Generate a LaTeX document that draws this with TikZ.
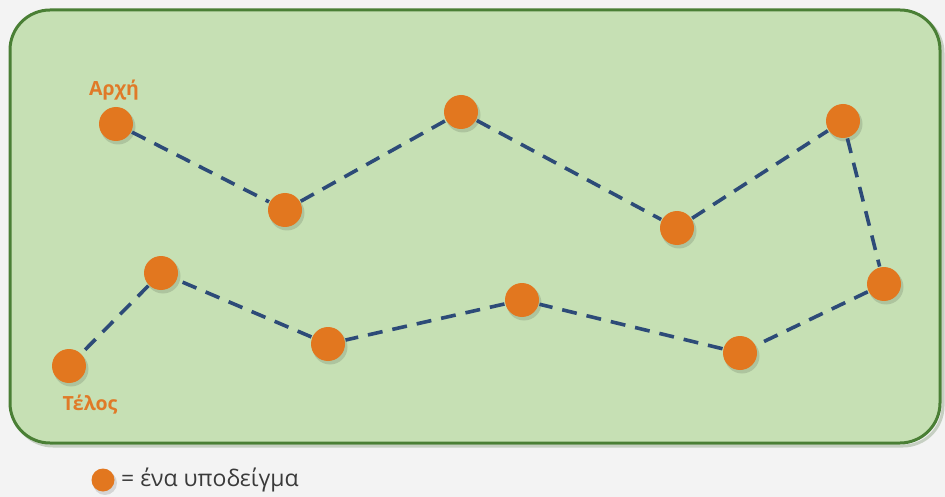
\documentclass[tikz,border=0pt]{standalone}
\usepackage{fontspec}
\setmainfont{Open Sans}
\definecolor{bggray}{HTML}{F3F3F3}
\definecolor{boxfill}{HTML}{C6E0B4}
\definecolor{boxline}{HTML}{4A7F35}
\definecolor{dotor}{HTML}{E2771F}
\definecolor{lblor}{HTML}{E07A28}
\definecolor{dashblue}{HTML}{2D4B78}
\definecolor{txtgray}{HTML}{3A3A3A}
\begin{document}
\begin{tikzpicture}[x=1pt,y=-1pt,
  dot/.style={circle,fill=dotor,minimum size=34pt,inner sep=0pt},
  link/.style={draw=dashblue,line width=3.6pt,dash pattern=on 15pt off 10pt,shorten <=18pt,shorten >=18pt},
  lbl/.style={text=lblor,font=\bfseries\fontsize{19.5}{22}\selectfont,inner sep=0pt}]
\fill[bggray] (0,0) rectangle (945,497);
\useasboundingbox (0,0) rectangle (945,497);
\draw[boxline!60!gray,opacity=0.3,line width=3pt,rounded corners=40pt] (13,13) rectangle (943,446);
\draw[fill=boxfill,draw=boxline,line width=3pt,rounded corners=40pt] (10,10) rectangle (940,443);
\foreach \n/\x/\y in {a/116/124,b/285/210,c/461/112,d/677/228,e/843/121,f/884/284,g/740/353,h/522/300,i/328/344,j/161/273,k/69/366}{
  \fill[black,opacity=0.12] (\x+2,\y+3) circle (17.5);
  \node[dot] (\n) at (\x,\y) {};
}
\foreach \p/\q in {a/b,b/c,c/d,d/e,e/f,f/g,g/h,h/i,i/j,j/k}{
  \draw[link] (\p.center) -- (\q.center);
}
\node[lbl] (start) at (114,90) {Αρχή};
\node[lbl] (end) at (90,405) {Τέλος};
\fill[black,opacity=0.12] (105,483) circle (12);
\node[dot,minimum size=23pt] (legdot) at (103,480) {};
\node[anchor=west,text=txtgray,font=\fontsize{23}{26}\selectfont,inner sep=0pt] (legtxt) at (121,480) {= ένα υποδείγμα};
\end{tikzpicture}
\end{document}
